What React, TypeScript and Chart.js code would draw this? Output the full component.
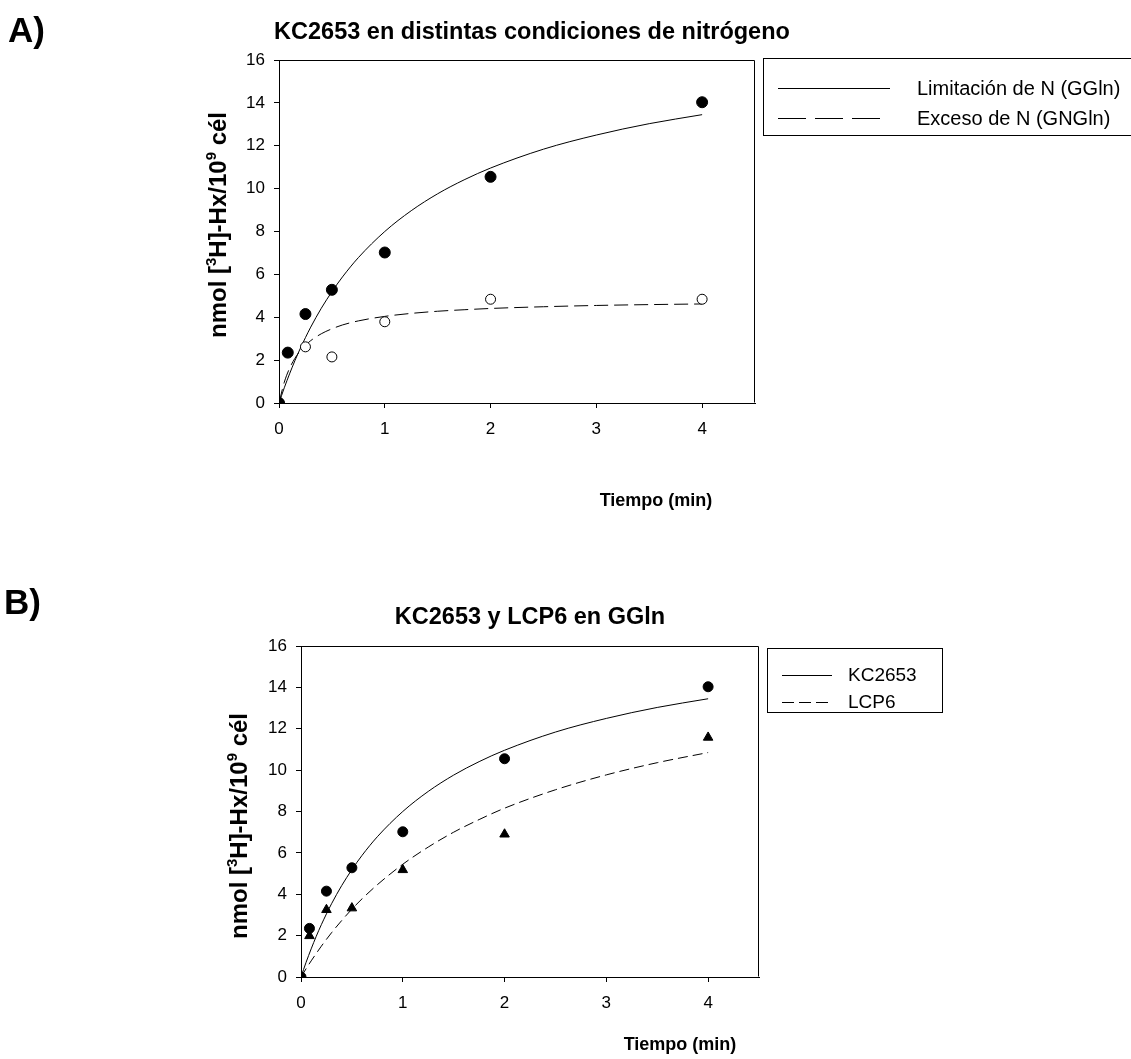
import React, { useEffect, useRef } from "react";
import { Chart, registerables } from "chart.js";
Chart.register(...registerables);

// ---------- data ----------
const timeMin = [0, 0.083, 0.25, 0.5, 1, 2, 4];
const kcGGln = [0, 2.35, 4.15, 5.28, 7.02, 10.55, 14.03];
const timeExcess = [0, 0.25, 0.5, 1, 2, 4];
const kcGNGln = [0, 2.62, 2.15, 3.79, 4.84, 4.84];
const lcp6GGln = [0, 1.99, 3.25, 3.33, 5.18, 6.9, 11.58];

const fitTime = [0, 0.05, 0.1, 0.15, 0.2, 0.25, 0.3, 0.4, 0.5, 0.6, 0.75, 1, 1.25, 1.5, 1.75, 2, 2.5, 3, 3.5, 4];
const fitKcGGln = [0, 0.71, 1.36, 1.97, 2.53, 3.05, 3.54, 4.42, 5.19, 5.88, 6.78, 8.0, 8.97, 9.76, 10.41, 10.96, 11.84, 12.5, 13.03, 13.45];
const fitKcGNGln = [0, 0.97, 1.62, 2.08, 2.43, 2.69, 2.91, 3.23, 3.46, 3.64, 3.83, 4.04, 4.18, 4.28, 4.35, 4.41, 4.49, 4.55, 4.59, 4.62];
const fitLcp6GGln = [0, 0.4, 0.78, 1.14, 1.49, 1.82, 2.14, 2.73, 3.28, 3.78, 4.46, 5.45, 6.28, 7.0, 7.61, 8.16, 9.05, 9.77, 10.36, 10.85];

const xTicks = [0, 1, 2, 3, 4];
const yTicks = [0, 2, 4, 6, 8, 10, 12, 14, 16];

const panelATitle = "KC2653 en distintas condiciones de nitrógeno";
const panelBTitle = "KC2653 y LCP6 en GGln";
const xTitle = "Tiempo (min)";
const legendA = ["Limitación de N (GGln)", "Exceso de N (GNGln)"];
const legendB = ["KC2653", "LCP6"];

const FONT = "'Liberation Sans', Arial, sans-serif";
const X_AXIS_H = 50;

const pts = (xs: number[], ys: number[]) => xs.map((x, i) => ({ x, y: ys[i] }));

const decorPlugin = {
  id: "decor",
  afterDraw(chart: any, _args: any, o: any) {
    const ctx = chart.ctx as CanvasRenderingContext2D;
    const a = chart.chartArea;
    ctx.save();
    ctx.strokeStyle = "#000";
    ctx.lineWidth = 1;
    // top and right frame
    const L = Math.round(a.left) + 0.5;
    const R = Math.round(a.right) - 0.5;
    const T = Math.round(a.top) + 0.5;
    const B = Math.round(a.bottom) - 0.5;
    ctx.beginPath();
    ctx.moveTo(L, T);
    ctx.lineTo(R, T);
    ctx.lineTo(R, B);
    ctx.stroke();

    ctx.fillStyle = "#000";
    ctx.textBaseline = "alphabetic";
    // panel label
    ctx.font = `bold ${o.panelSize}px ${FONT}`;
    ctx.textAlign = "left";
    ctx.fillText(o.panel, o.panelX, o.panelY);
    // title
    ctx.font = `bold ${o.titleSize}px ${FONT}`;
    ctx.textAlign = "center";
    ctx.fillText(o.title, o.titleX, o.titleY);
    // x title
    ctx.font = `bold ${o.axisSize}px ${FONT}`;
    ctx.fillText(o.xTitle, o.xTitleX, o.xTitleY);
    // y title with superscripts
    const segs: [string, boolean][] = [
      ["nmol [", false],
      ["3", true],
      ["H]-Hx/10", false],
      ["9", true],
      [" cél", false],
    ];
    const ys = o.yTitleSize;
    const big = `bold ${ys}px ${FONT}`;
    const small = `bold ${Math.round(ys * 0.62)}px ${FONT}`;
    let total = 0;
    for (const [t, sup] of segs) {
      ctx.font = sup ? small : big;
      total += ctx.measureText(t).width;
    }
    ctx.translate(o.yTitleX, o.yTitleY);
    ctx.rotate(-Math.PI / 2);
    ctx.textAlign = "left";
    let cx = -total / 2;
    for (const [t, sup] of segs) {
      ctx.font = sup ? small : big;
      ctx.fillText(t, cx, sup ? -ys * 0.4 : 0);
      cx += ctx.measureText(t).width;
    }
    ctx.setTransform(1, 0, 0, 1, 0, 0);

    // legend
    const lg = o.legend;
    ctx.strokeStyle = "#000";
    ctx.lineWidth = 1;
    ctx.strokeRect(lg.x + 0.5, lg.y + 0.5, lg.w, lg.h);
    const items = chart.data.datasets.filter((d: any) => d.inLegend);
    ctx.font = `${lg.size}px ${FONT}`;
    ctx.textAlign = "left";
    ctx.textBaseline = "middle";
    items.forEach((d: any, i: number) => {
      const y = Math.round(lg.rowY[i]) + 0.5;
      ctx.setLineDash(d.legendDash || []);
      ctx.beginPath();
      ctx.moveTo(lg.lineX0, y);
      ctx.lineTo(lg.lineX0 + (d.legendDash && d.legendDash.length ? lg.dashLen : lg.lineLen), y);
      ctx.stroke();
      ctx.setLineDash([]);
      ctx.fillText(d.label, lg.textX, lg.rowY[i] + 1);
    });
    ctx.restore();
  },
};

function scales(padL: number) {
  const tickFont = { family: FONT, size: 17 };
  return {
    x: {
      type: "linear",
      min: 0,
      max: 4.5,
      afterBuildTicks: (s: any) => {
        s.ticks = xTicks.map((v) => ({ value: v }));
      },
      afterFit: (s: any) => {
        s.height = X_AXIS_H;
      },
      grid: { drawOnChartArea: false, drawTicks: true, tickLength: 5, color: "#000" },
      border: { display: true, color: "#000", width: 1 },
      ticks: { color: "#000", font: tickFont, padding: 11, maxRotation: 0, autoSkip: false },
    },
    y: {
      type: "linear",
      min: 0,
      max: 16,
      afterBuildTicks: (s: any) => {
        s.ticks = yTicks.map((v) => ({ value: v }));
      },
      afterFit: (s: any) => {
        s.width = padL;
      },
      grid: { drawOnChartArea: false, drawTicks: true, tickLength: 5, color: "#000" },
      border: { display: true, color: "#000", width: 1 },
      ticks: { color: "#000", font: tickFont, padding: 9, autoSkip: false },
    },
  };
}

function configA(): any {
  return {
    type: "scatter",
    data: {
      datasets: [
        {
          label: "KC2653 GGln",
          data: pts(timeMin, kcGGln),
          pointStyle: "circle",
          pointRadius: 5.5,
          pointBackgroundColor: "#000",
          pointBorderColor: "#000",
          pointBorderWidth: 1,
          showLine: false,
        },
        {
          label: "KC2653 GNGln",
          data: pts(timeExcess, kcGNGln),
          pointStyle: "circle",
          pointRadius: 5,
          pointBackgroundColor: "#fff",
          pointBorderColor: "#000",
          pointBorderWidth: 1,
          showLine: false,
        },
        {
          label: legendA[0],
          inLegend: true,
          legendDash: [],
          data: pts(fitTime, fitKcGGln),
          showLine: true,
          pointRadius: 0,
          borderColor: "#000",
          borderWidth: 1,
          cubicInterpolationMode: "monotone",
        },
        {
          label: legendA[1],
          inLegend: true,
          legendDash: [28, 9],
          data: pts(fitTime, fitKcGNGln),
          showLine: true,
          pointRadius: 0,
          borderColor: "#000",
          borderWidth: 1,
          borderDash: [14, 6],
          cubicInterpolationMode: "monotone",
        },
      ],
    },
    options: {
      responsive: false,
      animation: false,
      events: [],
      layout: { padding: { left: 279 - 45, top: 60, right: 1131 - 755, bottom: 530 - 403 - X_AXIS_H } },
      plugins: {
        legend: { display: false },
        tooltip: { enabled: false },
        decor: {
          panel: "A)",
          panelSize: 35,
          panelX: 8,
          panelY: 42,
          title: panelATitle,
          titleSize: 23.5,
          titleX: 532,
          titleY: 39,
          xTitle,
          xTitleX: 656,
          xTitleY: 506,
          axisSize: 18,
          yTitleSize: 24,
          yTitleX: 226,
          yTitleY: 225,
          legend: {
            x: 763,
            y: 58,
            w: 400,
            h: 77,
            size: 20,
            lineX0: 778,
            lineLen: 112,
            dashLen: 102,
            textX: 917,
            rowY: [88, 118],
          },
        },
      },
      scales: scales(45),
    },
    plugins: [decorPlugin],
  };
}

function configB(): any {
  return {
    type: "scatter",
    data: {
      datasets: [
        {
          label: "KC2653 puntos",
          data: pts(timeMin, kcGGln),
          pointStyle: "circle",
          pointRadius: 5,
          pointBackgroundColor: "#000",
          pointBorderColor: "#000",
          pointBorderWidth: 1,
          showLine: false,
        },
        {
          label: "LCP6 puntos",
          data: pts(timeMin, lcp6GGln),
          pointStyle: "triangle",
          pointRadius: 5.5,
          pointBackgroundColor: "#000",
          pointBorderColor: "#000",
          pointBorderWidth: 1,
          showLine: false,
        },
        {
          label: legendB[0],
          inLegend: true,
          legendDash: [],
          data: pts(fitTime, fitKcGGln),
          showLine: true,
          pointRadius: 0,
          borderColor: "#000",
          borderWidth: 1,
          cubicInterpolationMode: "monotone",
        },
        {
          label: legendB[1],
          inLegend: true,
          legendDash: [12, 5],
          data: pts(fitTime, fitLcp6GGln),
          showLine: true,
          pointRadius: 0,
          borderColor: "#000",
          borderWidth: 1,
          borderDash: [10, 5],
          cubicInterpolationMode: "monotone",
        },
      ],
    },
    options: {
      responsive: false,
      animation: false,
      events: [],
      layout: { padding: { left: 301 - 45, top: 646 - 530, right: 1131 - 759, bottom: 529 - (977 - 530) - X_AXIS_H } },
      plugins: {
        legend: { display: false },
        tooltip: { enabled: false },
        decor: {
          panel: "B)",
          panelSize: 35,
          panelX: 4,
          panelY: 614 - 530,
          title: panelBTitle,
          titleSize: 23.5,
          titleX: 530,
          titleY: 624 - 530,
          xTitle,
          xTitleX: 680,
          xTitleY: 1050 - 530,
          axisSize: 18,
          yTitleSize: 24,
          yTitleX: 247,
          yTitleY: 826 - 530,
          legend: {
            x: 767,
            y: 648 - 530,
            w: 175,
            h: 64,
            size: 19,
            lineX0: 782,
            lineLen: 50,
            dashLen: 46,
            textX: 848,
            rowY: [675 - 530, 702 - 530],
          },
        },
      },
      scales: scales(45),
    },
    plugins: [decorPlugin],
  };
}

function Panel({ top, height, make }: { top: number; height: number; make: () => any }) {
  const ref = useRef<HTMLCanvasElement>(null);
  useEffect(() => {
    const chart = new Chart(ref.current as HTMLCanvasElement, make());
    return () => chart.destroy();
  }, [make]);
  return (
    <canvas
      ref={ref}
      width={1131}
      height={height}
      style={{ position: "absolute", left: 0, top, width: 1131, height, display: "block" }}
    />
  );
}

export default function App() {
  return (
    <div style={{ position: "absolute", left: 0, top: 0, width: 1131, height: 1059, background: "#fff", overflow: "hidden" }}>
      <Panel top={0} height={530} make={configA} />
      <Panel top={530} height={529} make={configB} />
    </div>
  );
}
